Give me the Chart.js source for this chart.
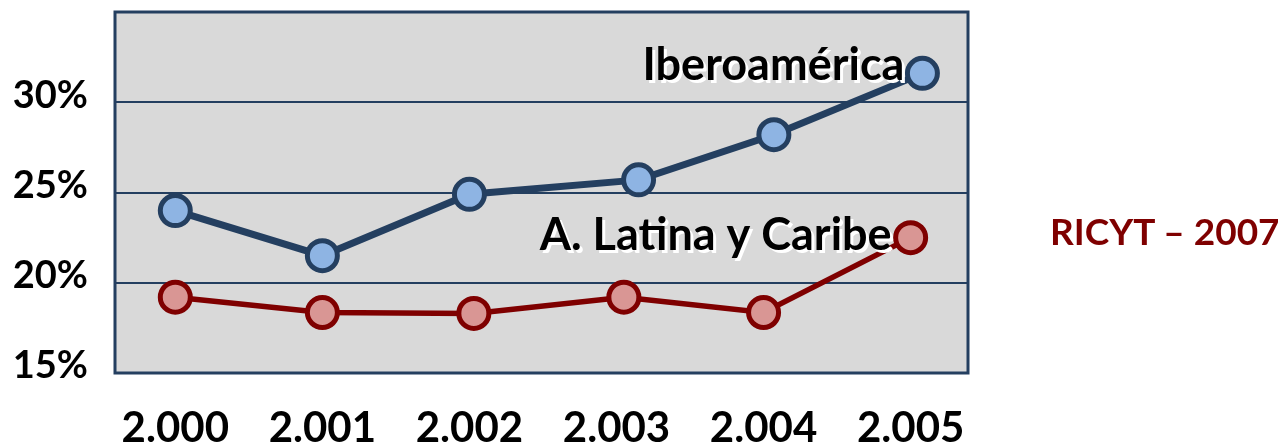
<!DOCTYPE html>
<html>
<head>
<meta charset="utf-8">
<title>Iberoamérica / A. Latina y Caribe</title>
<script src="https://cdn.jsdelivr.net/npm/chart.js@4/dist/chart.umd.min.js"></script>
<style>
    html, body { margin: 0; padding: 0; background: #fff; }
    #wrap { position: relative; width: 1278px; height: 444px; }
    #source {
        position: absolute; left: 1050px; top: 208px;
        font: bold 37px Lato, sans-serif; color: #7f0000; white-space: nowrap;
    }
</style>
</head>
<body>
<div id="wrap">
    <canvas id="chart" width="1278" height="444"></canvas>
    <div id="source">RICYT – 2007</div>
</div>
<script>
// datos
const years = [2000, 2001, 2002, 2003, 2004, 2005];
const yearLabels = ['2.000', '2.001', '2.002', '2.003', '2.004', '2.005'];
const yTicks = [15, 20, 25, 30];

const iberoName = 'Iberoamérica';
const iberoYears = [2000, 2001, 2002, 2003.15, 2004.07, 2005.08];
const iberoValues = [24.0, 21.5, 24.9, 25.7, 28.2, 31.6];

const latamName = 'A. Latina y Caribe';
const latamYears = [2000, 2001, 2002.03, 2003.05, 2004, 2005];
const latamValues = [19.2, 18.35, 18.3, 19.2, 18.35, 22.5];

const NAVY = '#243f60';
const DARK_RED = '#7f0000';

// fondo gris y marco del área de trazado
const plotFrame = {
    id: 'plotFrame',
    beforeDraw(chart) {
        const { ctx, chartArea: a } = chart;
        ctx.save();
        ctx.fillStyle = '#d9d9d9';
        ctx.fillRect(a.left, a.top, a.width, a.height);
        ctx.restore();
    },
    beforeDatasetsDraw(chart) {
        const { ctx, chartArea: a } = chart;
        ctx.save();
        ctx.strokeStyle = NAVY;
        ctx.lineWidth = 3;
        ctx.strokeRect(a.left, a.top, a.width, a.height);
        ctx.restore();
    }
};

// nombre de cada serie junto a su último punto
const seriesNames = {
    id: 'seriesNames',
    afterDatasetsDraw(chart, args, opts) {
        const { ctx } = chart;
        ctx.save();
        ctx.font = 'bold 45px Lato, sans-serif';
        ctx.textAlign = 'right';
        ctx.textBaseline = 'alphabetic';
        chart.data.datasets.forEach((ds, i) => {
            const pts = chart.getDatasetMeta(i).data;
            const last = pts[pts.length - 1];
            const off = opts.offsets[i];
            ctx.fillStyle = '#fff';
            ctx.fillText(ds.label, last.x + off.dx + 3, last.y + off.dy + 3);
            ctx.fillStyle = '#000';
            ctx.fillText(ds.label, last.x + off.dx, last.y + off.dy);
        });
        ctx.restore();
    }
};

const toPoints = (xs, ys) => xs.map((x, i) => ({ x, y: ys[i] }));

new Chart(document.getElementById('chart'), {
    type: 'line',
    data: {
        datasets: [{
            label: iberoName,
            data: toPoints(iberoYears, iberoValues),
            borderColor: NAVY,
            borderWidth: 7,
            pointRadius: 15,
            pointBorderWidth: 5,
            pointBackgroundColor: '#8eb4e3',
            pointBorderColor: NAVY
        }, {
            label: latamName,
            data: toPoints(latamYears, latamValues),
            borderColor: DARK_RED,
            borderWidth: 5.5,
            pointRadius: 15,
            pointBorderWidth: 5,
            pointBackgroundColor: '#d99694',
            pointBorderColor: DARK_RED
        }]
    },
    options: {
        responsive: false,
        animation: false,
        clip: false,
        layout: { autoPadding: false, padding: { top: 12, right: 310, left: 0, bottom: 0 } },
        plugins: {
            legend: { display: false },
            tooltip: { enabled: false },
            seriesNames: {
                offsets: [{ dx: -18, dy: 7 }, { dx: -19, dy: 12 }]
            }
        },
        scales: {
            x: {
                type: 'linear',
                min: 1999.59,
                max: 2005.39,
                afterBuildTicks: (axis) => { axis.ticks = years.map(v => ({ value: v })); },
                afterFit: (axis) => {
                    axis.height = 71;
                    axis.paddingLeft = 0;
                    axis.paddingRight = 0;
                },
                grid: { display: false, drawTicks: false },
                border: { display: false },
                ticks: {
                    padding: 30,
                    color: '#000',
                    font: { family: 'Lato', weight: 'bold', size: 42 },
                    maxRotation: 0,
                    callback: (v) => yearLabels[years.indexOf(v)]
                }
            },
            y: {
                min: 15,
                max: 35,
                afterBuildTicks: (axis) => { axis.ticks = yTicks.map(v => ({ value: v })); },
                afterFit: (axis) => {
                    axis.width = 115;
                    axis.paddingTop = 0;
                    axis.paddingBottom = 0;
                },
                grid: { color: NAVY, lineWidth: 2, drawTicks: false },
                border: { display: false },
                ticks: {
                    padding: 27,
                    labelOffset: -7,
                    color: '#000',
                    font: { family: 'Lato', weight: 'bold', size: 38 },
                    callback: (v) => v + '%'
                }
            }
        }
    },
    plugins: [plotFrame, seriesNames]
});
</script>
</body>
</html>
